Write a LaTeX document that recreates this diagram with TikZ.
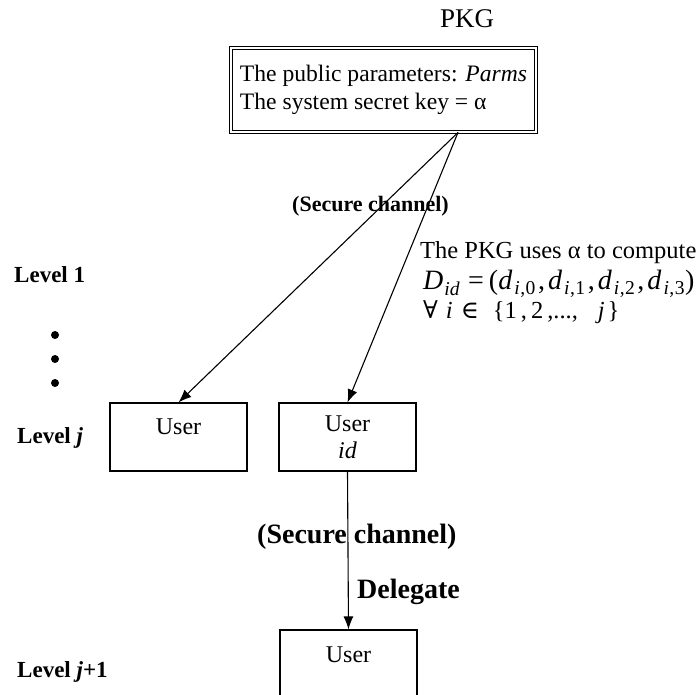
\documentclass[tikz,border=0pt]{standalone}
\usepackage{fontspec}
\setmainfont{Liberation Serif}
\newfontfamily\symbfont{DejaVu Serif}
\usetikzlibrary{arrows.meta}

\newcommand{\dsub}[1]{\textit{d}\kern2pt\textsubscript{\textit{i}\kern0.5pt,\kern0.5pt#1}}

\tikzset{
  userbox/.style={draw, line width=1.1pt, minimum width=137pt, minimum height=68pt, inner sep=0pt, font=\fontsize{24}{27}\selectfont},
  onename/.style={text height=16pt, text depth=20pt},
  lvl/.style={anchor=base west, inner sep=0pt, font=\fontsize{23}{27}\selectfont\bfseries},
  chan/.style={anchor=base west, inner sep=0pt},
  arr/.style={-{Latex[length=13pt,width=10pt]}, line width=1.1pt}
}

\begin{document}
\begin{tikzpicture}[x=1pt,y=-1pt]
\useasboundingbox (0,0) rectangle (697,695);
% the PKG and its box
\node[anchor=base west, inner sep=0pt, font=\fontsize{27}{30}\selectfont] (pkg) at (440,28) {PKG};
\node[draw, double, double distance=2.2pt, line width=0.9pt, minimum width=305pt, minimum height=84pt,
  inner xsep=4pt, align=left, font=\fontsize{23.6}{28}\selectfont] (pkgbox) at (383.5,90)
  {The public parameters: \textit{Parms}\\The system secret key = α};
% levels
\node[lvl] (l1) at (14,283) {Level 1};
\node[lvl] (lj) at (17,443) {Level \textit{j}};
\node[lvl] (lj1) at (17,677) {Level \textit{j}+1};
\foreach \y in {335,359,383}
  \fill (55,\y) circle (4pt);
% users
\node[userbox, onename] (u1) at (178.5,437) {User};
\node[userbox, align=center] (uid) at (347.5,437) {User\\\textit{id}};
\node[userbox, onename] (u2) at (348.5,664) {User};
% channels
\coordinate (src) at ([xshift=74.5pt]pkgbox.south);
\draw[arr] (src) -- (u1.north);
\draw[arr] (src) -- (uid.north);
\draw[arr] (uid.south) -- (u2.north);
\node[chan, font=\fontsize{22}{26}\selectfont\bfseries] (sc1) at (292,212) {(Secure channel)};
\node[chan, font=\fontsize{28}{32}\selectfont\bfseries] (sc2) at (257,543) {(Secure channel)};
\node[chan, font=\fontsize{28}{32}\selectfont\bfseries] (dlg) at (357,598) {Delegate};
% what the PKG computes
\node[chan, font=\fontsize{24.5}{27}\selectfont] (note1) at (420,259) {The PKG uses α to compute};
\node[chan, font=\fontsize{28}{32}\selectfont] (note2) at (423,290)
  {\textit{D}\kern1pt\textsubscript{\textit{id}}\kern8pt=\kern5pt(\dsub{0}\kern2pt,\kern3pt\dsub{1}\kern2pt,\kern3pt\dsub{2}\kern2pt,\kern3pt\dsub{3})};
\node[chan, font=\fontsize{24.5}{27}\selectfont] (note3) at (423,319)
  {{\symbfont ∀}\kern8pt\textit{i}\kern8pt{\symbfont ∈}\kern14pt\{1\kern4pt,\kern4pt2\kern4pt,...,\kern20pt\textit{j}\kern3pt\}};
\end{tikzpicture}
\end{document}
